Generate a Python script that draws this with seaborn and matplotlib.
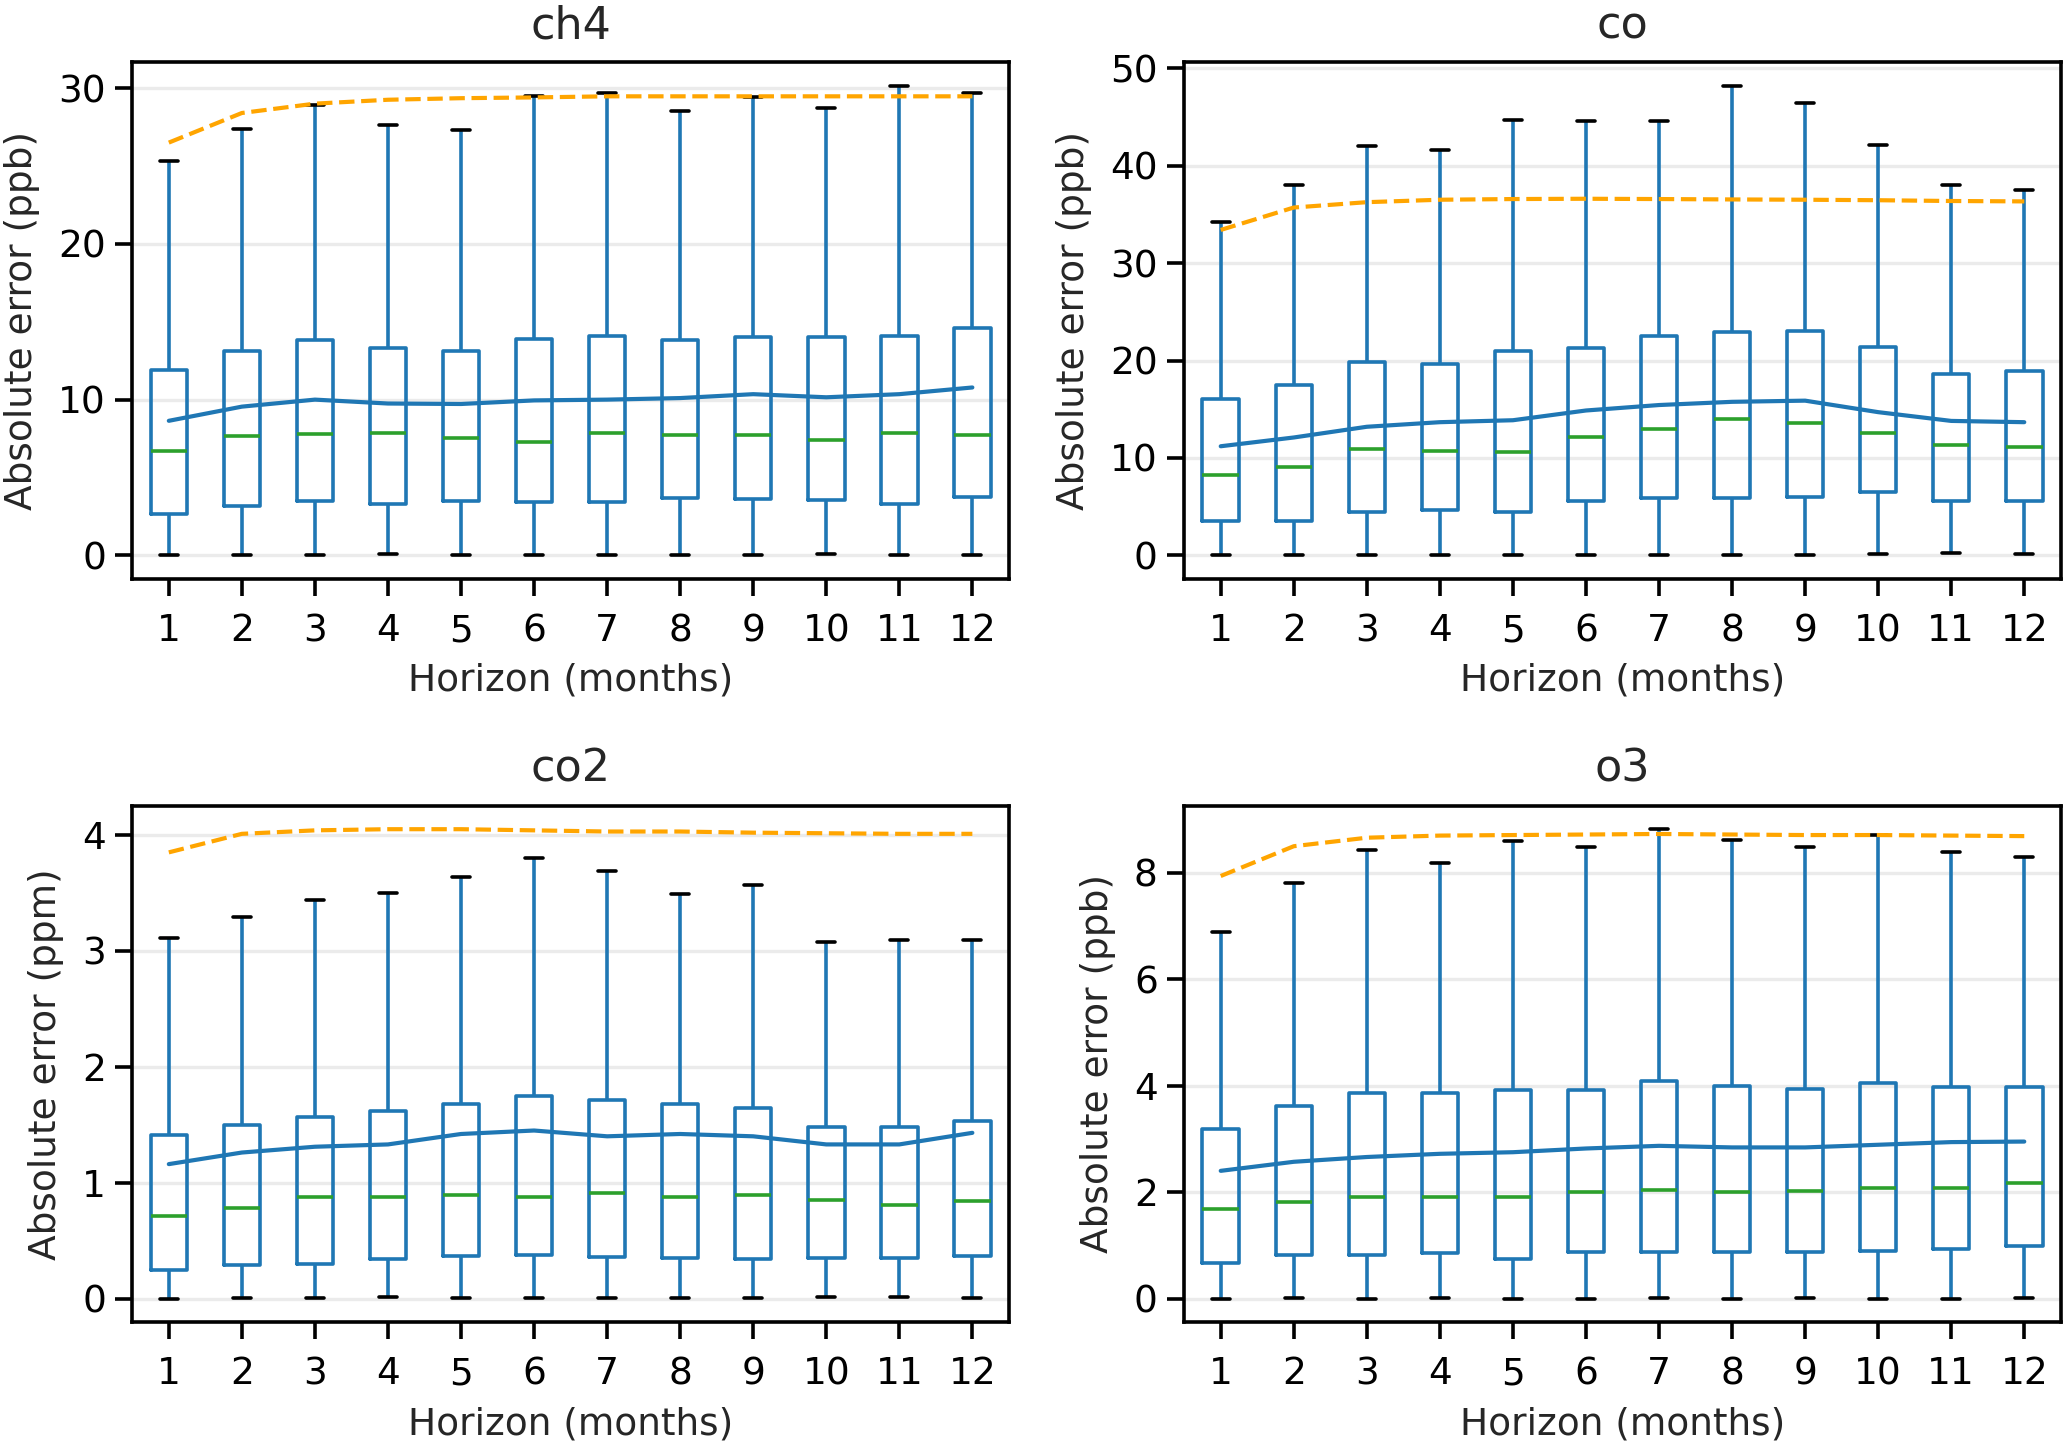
import numpy as np
import pandas as pd
import matplotlib
matplotlib.use("Agg")
import matplotlib.pyplot as plt
import seaborn as sns

horizons = list(range(1, 13))

# ch4 (ppb)
ch4_min = [0.02, 0.03, 0.05, 0.06, 0.04, 0.03, 0.02, 0.04, 0.03, 0.08, 0.02, 0.02]
ch4_q1 = [2.66, 3.19, 3.52, 3.32, 3.52, 3.42, 3.44, 3.67, 3.59, 3.57, 3.27, 3.77]
ch4_med = [6.73, 7.69, 7.79, 7.86, 7.54, 7.31, 7.84, 7.74, 7.76, 7.44, 7.86, 7.76]
ch4_q3 = [11.9, 13.1, 13.8, 13.3, 13.1, 13.9, 14.07, 13.8, 14.0, 14.05, 14.1, 14.6]
ch4_max = [25.3, 27.4, 28.9, 27.6, 27.3, 29.5, 29.7, 28.5, 29.4, 28.7, 30.15, 29.7]
ch4_mean = [8.64, 9.55, 10.0, 9.75, 9.72, 9.95, 10.0, 10.1, 10.35, 10.15, 10.35, 10.78]
ch4_clim = [26.5, 28.4, 29.0, 29.25, 29.35, 29.4, 29.47, 29.47, 29.47, 29.47, 29.47, 29.47]

# co (ppb)
co_min = [0.05, 0.04, 0.08, 0.03, 0.04, 0.06, 0.06, 0.08, 0.08, 0.1, 0.22, 0.1]
co_q1 = [3.5, 3.58, 4.42, 4.66, 4.46, 5.63, 5.87, 5.9, 6.03, 6.47, 5.59, 5.63]
co_med = [8.24, 9.04, 10.9, 10.7, 10.57, 12.2, 13.0, 14.0, 13.55, 12.54, 11.3, 11.17]
co_q3 = [16.0, 17.5, 19.85, 19.6, 20.95, 21.3, 22.55, 22.95, 23.0, 21.4, 18.6, 18.9]
co_max = [34.2, 38.0, 42.0, 41.6, 44.7, 44.6, 44.6, 48.2, 46.4, 42.1, 38.0, 37.5]
co_mean = [11.2, 12.1, 13.2, 13.67, 13.87, 14.87, 15.43, 15.76, 15.88, 14.7, 13.8, 13.67]
co_clim = [33.4, 35.7, 36.25, 36.5, 36.57, 36.6, 36.57, 36.53, 36.5, 36.45, 36.37, 36.33]

# co2 (ppm)
co2_min = [0.0, 0.003, 0.002, 0.01, 0.003, 0.001, 0.002, 0.008, 0.002, 0.015, 0.01, 0.003]
co2_q1 = [0.25, 0.29, 0.30, 0.34, 0.37, 0.38, 0.36, 0.35, 0.34, 0.35, 0.35, 0.37]
co2_med = [0.71, 0.78, 0.88, 0.88, 0.89, 0.88, 0.91, 0.88, 0.89, 0.85, 0.81, 0.84]
co2_q3 = [1.41, 1.50, 1.57, 1.62, 1.68, 1.75, 1.71, 1.68, 1.64, 1.48, 1.48, 1.53]
co2_max = [3.11, 3.29, 3.44, 3.50, 3.64, 3.80, 3.69, 3.49, 3.57, 3.08, 3.09, 3.09]
co2_mean = [1.16, 1.26, 1.31, 1.33, 1.42, 1.45, 1.40, 1.42, 1.40, 1.33, 1.33, 1.43]
co2_clim = [3.85, 4.01, 4.04, 4.05, 4.05, 4.04, 4.03, 4.03, 4.02, 4.015, 4.01, 4.01]

# o3 (ppb)
o3_min = [0.0, 0.01, 0.0, 0.01, 0.0, 0.0, 0.01, 0.0, 0.01, 0.0, 0.0, 0.01]
o3_q1 = [0.67, 0.81, 0.81, 0.85, 0.75, 0.88, 0.87, 0.88, 0.88, 0.90, 0.94, 0.98]
o3_med = [1.68, 1.82, 1.91, 1.90, 1.90, 2.01, 2.04, 2.00, 2.03, 2.07, 2.08, 2.18]
o3_q3 = [3.19, 3.62, 3.87, 3.87, 3.92, 3.92, 4.08, 4.00, 3.93, 4.05, 3.97, 3.97]
o3_max = [6.89, 7.81, 8.43, 8.18, 8.59, 8.49, 8.82, 8.62, 8.49, 8.72, 8.40, 8.30]
o3_mean = [2.40, 2.57, 2.66, 2.72, 2.75, 2.82, 2.87, 2.84, 2.84, 2.89, 2.94, 2.95]
o3_clim = [7.94, 8.50, 8.66, 8.70, 8.71, 8.72, 8.73, 8.72, 8.71, 8.71, 8.70, 8.69]

panels = [
    ("ch4", "Absolute error (ppb)", [ch4_min, ch4_q1, ch4_med, ch4_q3, ch4_max], ch4_mean, ch4_clim),
    ("co", "Absolute error (ppb)", [co_min, co_q1, co_med, co_q3, co_max], co_mean, co_clim),
    ("co2", "Absolute error (ppm)", [co2_min, co2_q1, co2_med, co2_q3, co2_max], co2_mean, co2_clim),
    ("o3", "Absolute error (ppb)", [o3_min, o3_q1, o3_med, o3_q3, o3_max], o3_mean, o3_clim),
]

sns.set_style("ticks")
plt.rcParams["font.family"] = ["DejaVu Sans"]
fs = 13.5

fig, axes = plt.subplots(2, 2, figsize=(10.335, 7.24))
fig.subplots_adjust(left=0.064, right=0.997, top=0.957, bottom=0.087, wspace=0.2, hspace=0.44)

blue = "#1f77b4"
for ax, (name, ylab, five, mean, clim) in zip(axes.flat, panels):
    # five-number summary per horizon -> quartiles come out exactly
    rows = []
    for i, h in enumerate(horizons):
        for s in five:
            rows.append({"horizon": h, "err": s[i]})
    df = pd.DataFrame(rows)

    sns.boxplot(data=df, x="horizon", y="err", native_scale=True, whis=np.inf,
                width=0.5, fill=False, color=blue, linewidth=1.3, showfliers=False,
                medianprops={"color": "#2ca02c", "linewidth": 1.3},
                capprops={"color": "black", "linewidth": 1.3},
                ax=ax)
    sns.lineplot(x=horizons, y=mean, color=blue, linewidth=1.5, ax=ax)
    sns.lineplot(x=horizons, y=clim, color="orange", linewidth=1.5, linestyle="--", ax=ax)

    ax.set_xticks(horizons)
    ax.set_xticklabels([str(h) for h in horizons])
    ax.set_xlim(0.5, 12.5)
    ax.yaxis.grid(True, color="#ebebeb", linewidth=1.2)
    ax.set_axisbelow(True)
    for sp in ax.spines.values():
        sp.set_visible(True)
        sp.set_color("black")
        sp.set_linewidth(1.3)
    ax.tick_params(labelsize=fs, width=1.3, length=6, colors="black")
    ax.tick_params(axis="x", pad=6.4)
    ax.set_title(name, fontsize=16, pad=8.6)
    ax.set_xlabel("Horizon (months)", fontsize=fs, labelpad=5.0)
    ax.set_ylabel(ylab, fontsize=fs, labelpad=6.4)

fig.savefig("out.png", dpi=200)
